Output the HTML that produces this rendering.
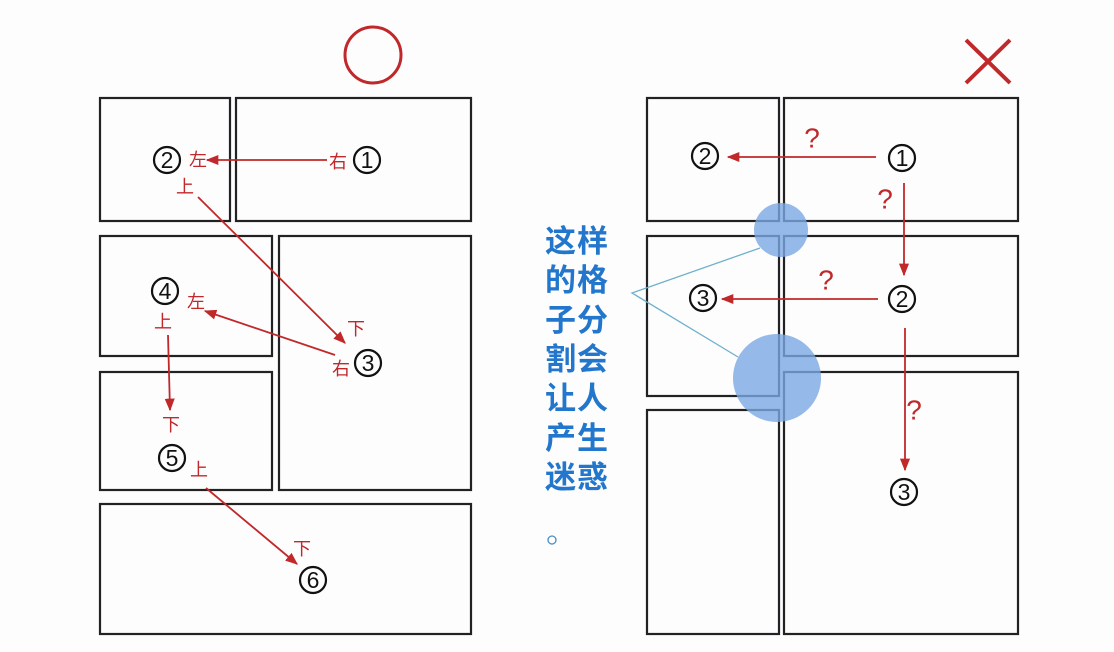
<!DOCTYPE html>
<html><head><meta charset="utf-8"><style>
html,body{margin:0;padding:0;background:#fdfdfe;}
svg{display:block;}
.p{fill:none;stroke:#222;stroke-width:2.2;}
.r{stroke:#c0282a;stroke-width:1.8;fill:none;}
.d{font-family:"Liberation Sans",sans-serif;font-size:23px;fill:#111;text-anchor:middle;dominant-baseline:central;}
.k{fill:none;stroke:#111;stroke-width:2.2;}
.c{font-family:"Liberation Sans","Noto Sans CJK SC",sans-serif;font-size:18px;fill:#c0282a;text-anchor:middle;dominant-baseline:central;}
.q{font-family:"Liberation Sans",sans-serif;font-size:28px;fill:#c0282a;text-anchor:middle;dominant-baseline:central;}
.b{font-family:"Liberation Sans","Noto Sans CJK SC",sans-serif;font-size:31px;font-weight:bold;fill:#2277cc;letter-spacing:1px;}
</style></head><body>
<svg width="1114" height="652" viewBox="0 0 1114 652" xmlns="http://www.w3.org/2000/svg">
<defs><marker id="a" viewBox="0 0 10 10" refX="9" refY="5" markerWidth="7" markerHeight="7" orient="auto"><path d="M0,1 L10,5 L0,9 z" fill="#c0282a"/></marker>
<g id="c1"><circle class="k" r="13"/><text class="d">1</text></g>
<g id="c2"><circle class="k" r="13"/><text class="d">2</text></g>
<g id="c3"><circle class="k" r="13"/><text class="d">3</text></g>
<g id="c4"><circle class="k" r="13"/><text class="d">4</text></g>
<g id="c5"><circle class="k" r="13"/><text class="d">5</text></g>
<g id="c6"><circle class="k" r="13"/><text class="d">6</text></g>
</defs>
<circle cx="373" cy="55" r="28" fill="none" stroke="#c0282a" stroke-width="3"/>
<path d="M966,40 L1010,83 M1010,40 L966,83" stroke="#c0282a" stroke-width="4"/>
<rect class="p" x="100" y="98" width="130" height="123"/>
<rect class="p" x="236" y="98" width="235" height="123"/>
<rect class="p" x="100" y="236" width="172" height="120"/>
<rect class="p" x="279" y="236" width="192" height="254"/>
<rect class="p" x="100" y="372" width="172" height="118"/>
<rect class="p" x="100" y="504" width="371" height="130"/>
<rect class="p" x="647" y="98" width="132" height="123"/>
<rect class="p" x="784" y="98" width="234" height="123"/>
<rect class="p" x="647" y="236" width="132" height="160"/>
<rect class="p" x="784" y="236" width="234" height="120"/>
<rect class="p" x="647" y="410" width="132" height="224"/>
<rect class="p" x="784" y="372" width="234" height="262"/>
<circle cx="781" cy="230" r="27" fill="#7aa8e2" fill-opacity="0.8"/>
<circle cx="777" cy="378" r="44" fill="#7aa8e2" fill-opacity="0.8"/>
<path d="M760,248 L632,293 L738,357" stroke="#6fb0cc" stroke-width="1.3" fill="none"/>
<text class="b" x="545" y="252">这样</text>
<text class="b" x="545" y="291">的格</text>
<text class="b" x="545" y="331">子分</text>
<text class="b" x="545" y="370">割会</text>
<text class="b" x="545" y="409">让人</text>
<text class="b" x="545" y="449">产生</text>
<text class="b" x="545" y="488">迷惑</text>
<circle cx="552" cy="540" r="4" fill="none" stroke="#4a8cc6" stroke-width="1.3"/>
<line class="r" x1="327" y1="160" x2="207" y2="160" marker-end="url(#a)"/>
<line class="r" x1="198" y1="197" x2="345" y2="343" marker-end="url(#a)"/>
<line class="r" x1="335" y1="355" x2="205" y2="311" marker-end="url(#a)"/>
<line class="r" x1="168" y1="335" x2="170" y2="410" marker-end="url(#a)"/>
<line class="r" x1="206" y1="488" x2="297" y2="564" marker-end="url(#a)"/>
<use href="#c2" x="167" y="160"/><text class="c" x="198" y="160">左</text>
<text class="c" x="338" y="162">右</text><use href="#c1" x="367" y="160"/>
<text class="c" x="185" y="187">上</text>
<text class="c" x="356" y="329">下</text><use href="#c3" x="368" y="363"/><text class="c" x="341" y="369">右</text>
<use href="#c4" x="165" y="291"/><text class="c" x="196" y="302">左</text><text class="c" x="163" y="322">上</text>
<text class="c" x="171" y="425">下</text><use href="#c5" x="172" y="458"/><text class="c" x="199" y="470">上</text>
<text class="c" x="302" y="549">下</text><use href="#c6" x="313" y="580"/>
<line class="r" x1="876" y1="157" x2="728" y2="157" marker-end="url(#a)"/>
<line class="r" x1="904" y1="183" x2="904" y2="275" marker-end="url(#a)"/>
<line class="r" x1="878" y1="299" x2="722" y2="299" marker-end="url(#a)"/>
<line class="r" x1="905" y1="328" x2="905" y2="470" marker-end="url(#a)"/>
<use href="#c2" x="705" y="156"/><use href="#c1" x="902" y="158"/>
<text class="q" x="812" y="138">?</text><text class="q" x="885" y="199">?</text>
<use href="#c2" x="902" y="299"/><use href="#c3" x="703" y="298"/>
<text class="q" x="826" y="280">?</text><text class="q" x="914" y="410">?</text>
<use href="#c3" x="904" y="492"/>
</svg>
</body></html>
